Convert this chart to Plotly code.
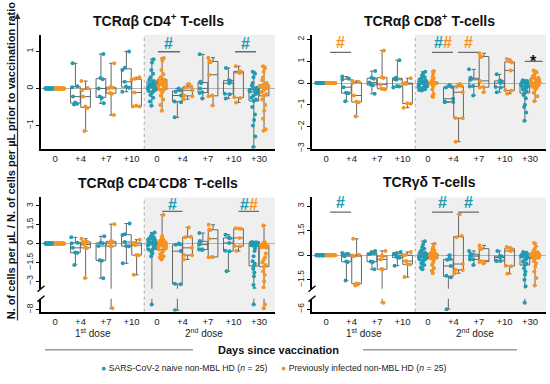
import numpy as np
import plotly.graph_objects as go

W, H = 550, 384
BLUE = '#1f9bb3'
ORANGE = '#f7931e'
FONT = 'Arial, "Liberation Sans", sans-serif'

day_labels = ['0', '+4', '+7', '+10', '0', '+4', '+7', '+10', '+30']
baseline = [0.0] * 25

# ---------------- TCRab CD4+ ----------------
cd4_naive = [
    baseline,
    [-0.43, -0.41, -0.38, -0.22, 0.03, 0.06, 0.68],
    [-0.40, -0.26, -0.22, 0.00, 0.25, 0.28, 0.93],
    [-0.09, 0.02, 0.05, 0.18, 0.50, 0.56, 1.00],
    [-0.47, -0.35, -0.25, -0.18, -0.12, -0.08, -0.07, -0.03, -0.01, 0.00, 0.02, 0.04, 0.05,
     0.07, 0.09, 0.11, 0.13, 0.16, 0.20, 0.24, 0.30, 0.40, 0.50, 0.70, 0.79],
    [-0.78, -0.37, -0.35, -0.19, -0.09, -0.05, 0.00],
    [-0.27, -0.12, -0.10, 0.00, 0.14, 0.18, 0.92],
    [-0.27, -0.16, -0.14, 0.14, 0.20, 0.22, 0.55],
    [-1.58, -1.30, -1.00, -0.85, -0.70, -0.50, -0.34, -0.30, -0.25, -0.20, -0.16, -0.12, -0.10,
     -0.08, -0.06, -0.04, -0.02, -0.01, 0.00, 0.02, 0.08, 0.15, 0.30, 0.40, 0.45],
]
cd4_prev = [
    baseline,
    [-1.15, -0.53, -0.49, -0.22, -0.05, 0.01, 0.20],
    [-0.72, -0.14, -0.12, 0.00, 0.02, 0.04, 0.68],
    [-0.49, -0.49, -0.47, -0.11, 0.24, 0.26, 0.30],
    [-0.60, -0.45, -0.30, -0.20, -0.10, -0.05, -0.03, 0.02, 0.04, 0.06, 0.08, 0.10, 0.12,
     0.13, 0.15, 0.17, 0.19, 0.21, 0.24, 0.26, 0.30, 0.38, 0.50, 0.75, 0.82],
    [-0.29, -0.21, -0.19, -0.05, 0.03, 0.05, 0.12],
    [-0.46, -0.21, -0.19, 0.37, 0.71, 0.75, 0.83],
    [-0.38, -0.26, -0.24, 0.42, 0.45, 0.47, 0.60],
    [-1.14, -1.10, -0.82, -0.60, -0.45, -0.30, -0.20, -0.15, -0.10, -0.05, 0.00, 0.02, 0.04,
     0.05, 0.06, 0.06, 0.07, 0.08, 0.10, 0.15, 0.22, 0.30, 0.45, 0.55, 0.60],
]

# ---------------- TCRab CD8+ ----------------
cd8_naive = [
    baseline,
    [-0.84, -0.47, -0.45, -0.19, 0.16, 0.20, 0.30],
    [-0.49, -0.10, -0.08, 0.03, 0.20, 0.24, 0.55],
    [-0.20, -0.16, -0.14, 0.15, 0.20, 0.24, 1.05],
    [-0.34, -0.32, -0.28, -0.25, -0.22, -0.20, -0.19, -0.15, -0.12, -0.10, -0.06, -0.03, 0.00,
     0.02, 0.04, 0.06, 0.08, 0.10, 0.13, 0.16, 0.20, 0.28, 0.35, 0.45, 0.52],
    [-0.88, -0.87, -0.85, -0.72, -0.20, -0.18, -0.09],
    [-0.57, -0.16, -0.14, 0.15, 0.20, 0.24, 0.63],
    [-0.42, -0.20, -0.18, 0.00, 0.08, 0.12, 0.40],
    [-1.73, -1.35, -1.10, -1.00, -0.70, -0.55, -0.46, -0.38, -0.30, -0.25, -0.20, -0.18, -0.15,
     -0.13, -0.10, -0.08, -0.05, -0.02, 0.03, 0.04, 0.05, 0.07, 0.09, 0.10, 0.13],
]
cd8_prev = [
    baseline,
    [-1.54, -0.88, -0.86, -0.57, 0.00, 0.05, 0.10],
    [-0.28, -0.27, -0.25, -0.06, 0.23, 0.27, 1.50],
    [-1.13, -0.95, -0.93, -0.04, -0.02, 0.02, 0.22],
    [-0.64, -0.60, -0.50, -0.30, -0.15, -0.08, -0.04, -0.02, -0.01, 0.00, 0.00, 0.00, 0.00,
     0.00, 0.00, 0.00, 0.01, 0.02, 0.04, 0.08, 0.15, 0.22, 0.30, 0.45, 0.55],
    [-2.69, -1.62, -1.60, -0.42, -0.17, -0.13, -0.04],
    [-0.42, -0.20, -0.18, 0.10, 1.20, 1.24, 1.37],
    [-0.49, -0.35, -0.33, 0.58, 0.95, 0.99, 1.10],
    [-0.84, -0.60, -0.45, -0.30, -0.22, -0.18, -0.15, -0.10, -0.07, -0.04, -0.02, 0.01, 0.03,
     0.05, 0.08, 0.10, 0.14, 0.18, 0.22, 0.25, 0.30, 0.35, 0.42, 0.50, 0.58],
]

# ---------------- TCRab CD4-CD8- ----------------
dn_naive = [
    baseline,
    [-1.70, -0.74, -0.72, -0.34, 0.03, 0.07, 0.50],
    [-2.76, -1.36, -1.32, -0.20, 0.03, 0.07, 0.58],
    [-1.57, -0.22, -0.20, 0.13, 0.68, 0.74, 1.60],
    [-7.60, -1.00, -0.80, -0.65, -0.55, -0.50, -0.47, -0.35, -0.25, -0.15, -0.10, -0.05, 0.00,
     0.03, 0.08, 0.12, 0.18, 0.25, 0.31, 0.35, 0.42, 0.50, 0.60, 0.75, 0.89],
    [-8.05, -3.25, -3.20, -0.60, -0.10, -0.06, 0.00],
    [-0.52, -0.48, -0.46, -0.08, 0.16, 0.20, 0.84],
    [-2.20, -0.62, -0.58, 0.05, 0.43, 0.47, 0.71],
    [-7.60, -3.60, -3.30, -2.60, -2.30, -2.00, -1.78, -1.60, -1.40, -1.00, -0.60, -0.40, -0.21,
     -0.15, -0.10, -0.07, -0.04, -0.02, 0.05, 0.06, 0.07, 0.08, 0.09, 0.10, 0.10],
]
dn_prev = [
    baseline,
    [-2.75, -0.35, -0.33, -0.08, 0.12, 0.15, 0.39],
    [-7.90, -0.21, -0.19, 0.05, 0.16, 0.20, 1.55],
    [-2.49, -0.93, -0.91, -0.13, 0.03, 0.07, 0.31],
    [-1.26, -1.10, -1.00, -0.85, -0.70, -0.55, -0.47, -0.40, -0.35, -0.30, -0.25, -0.20, -0.13,
     -0.10, -0.05, 0.00, 0.05, 0.10, 0.13, 0.20, 0.25, 0.35, 0.45, 0.60, 2.30],
    [-1.26, -0.93, -0.91, -0.34, 0.50, 0.54, 1.29],
    [-1.08, -1.08, -1.06, 0.39, 1.08, 1.12, 1.50],
    [-0.60, -0.22, -0.20, 0.45, 1.18, 1.20, 1.22],
    [-7.90, -7.60, -3.50, -3.00, -2.50, -2.20, -1.84, -1.70, -1.50, -1.30, -1.10, -0.80, -0.34,
     -0.30, -0.25, -0.20, -0.17, -0.15, -0.13, -0.10, -0.05, 0.00, 0.05, 0.10, 1.45],
]

# ---------------- TCRgd ----------------
gd_naive = [
    baseline,
    [-1.54, -0.41, -0.39, -0.06, 0.05, 0.07, 0.14],
    [-0.86, -0.41, -0.39, 0.06, 0.13, 0.15, 0.26],
    [-0.64, -0.15, -0.13, 0.00, 0.09, 0.11, 0.20],
    [-0.86, -0.75, -0.60, -0.50, -0.40, -0.30, -0.26, -0.20, -0.15, -0.12, -0.10, -0.08, -0.06,
     -0.03, 0.00, 0.02, 0.05, 0.10, 0.14, 0.20, 0.30, 0.40, 0.50, 0.65, 0.86],
    [-6.00, -1.35, -1.25, -0.66, -0.28, -0.24, 0.00],
    [-0.60, -0.27, -0.25, -0.06, 0.05, 0.07, 0.26],
    [-0.36, -0.36, -0.34, -0.14, -0.07, -0.05, 0.26],
    [-5.60, -1.90, -1.50, -1.20, -1.00, -0.80, -0.60, -0.50, -0.40, -0.30, -0.25, -0.15, -0.10,
     -0.08, -0.06, -0.04, -0.02, -0.01, 0.00, 0.02, 0.05, 0.08, 0.10, 0.15, 0.20],
]
gd_prev = [
    baseline,
    [-1.86, -1.75, -1.73, -0.06, -0.02, 0.02, 1.00],
    [-5.60, -0.88, -0.84, -0.26, -0.08, -0.04, 0.26],
    [-1.34, -0.57, -0.55, -0.36, -0.02, 0.02, 0.20],
    [-1.10, -0.95, -0.80, -0.60, -0.45, -0.30, -0.20, -0.15, -0.10, -0.06, -0.04, -0.02, 0.00,
     0.00, 0.00, 0.02, 0.03, 0.05, 0.10, 0.12, 0.20, 0.30, 0.40, 0.50, 0.70],
    [-1.10, -0.91, -0.89, -0.54, 1.10, 1.18, 2.50],
    [-0.50, -0.41, -0.39, -0.36, 0.38, 0.42, 0.60],
    [-1.14, -0.67, -0.65, 0.26, 0.38, 0.42, 0.50],
    [-1.86, -1.40, -1.00, -0.70, -0.50, -0.35, -0.20, -0.15, -0.10, -0.06, -0.04, -0.02, 0.00,
     0.00, 0.02, 0.03, 0.05, 0.08, 0.14, 0.18, 0.22, 0.30, 0.40, 0.55, 0.74],
]

# significance marks: (from group, to group, line y, label y, [(symbol, colour), ...])
sig_cd4 = [(4.04, 4.9, 0.99, 1.20, [('#', BLUE)]), (7.06, 7.88, 0.99, 1.20, [('#', BLUE)])]
sig_cd8 = [(0.16, 0.98, 1.41, 1.86, [('#', ORANGE)]),
           (4.16, 4.98, 1.41, 1.86, [('#', BLUE), ('#', ORANGE)]),
           (5.18, 5.96, 1.41, 1.86, [('#', ORANGE)]),
           (7.80, 8.50, 1.00, 0.97, [('*', '#111111')])]
sig_dn = [(4.2, 5.0, 2.57, 3.10, [('#', BLUE)]), (7.2, 8.0, 2.57, 3.10, [('#', BLUE), ('#', ORANGE)])]
sig_gd = [(0.16, 0.98, 2.63, 3.20, [('#', BLUE)]), (4.16, 4.98, 2.63, 3.20, [('#', BLUE)]),
          (5.18, 6.0, 2.63, 3.20, [('#', BLUE)])]

# ---------------- geometry helpers ----------------
def px(x):
    return x / W

def py(y):
    return 1 - y / H

XL = [px(41), px(275)]
XR = [px(312), px(546)]
TOP = [py(150), py(35)]
BMAIN = [py(291), py(199)]
BLOW = [py(314), py(301)]
XRANGE = [-0.55, 8.63]
POS = list(range(9))
OFF = 0.2
BW = 0.38

panels = [
    dict(title='TCRαβ CD4<sup>+</sup> T-cells', xd=XL, naive=cd4_naive, prev=cd4_prev, sig=sig_cd4,
         segs=[dict(yd=TOP, rng=[-1.63, 1.45], tv=[-1, 0, 1], tt=['−1', '0', '1'], zero=True, xlabels=True)],
         title_y=20),
    dict(title='TCRαβ CD8<sup>+</sup> T-cells', xd=XR, naive=cd8_naive, prev=cd8_prev, sig=sig_cd8,
         segs=[dict(yd=TOP, rng=[-3.02, 2.22], tv=[-3, -2, -1, 0, 1, 2], tt=['−3', '−2', '−1', '0', '1', '2'],
                    zero=True, xlabels=True)],
         title_y=20),
    dict(title='TCRαβ CD4<sup>-</sup>CD8<sup>-</sup> T-cells', xd=XL, naive=dn_naive, prev=dn_prev, sig=sig_dn,
         segs=[dict(yd=BMAIN, rng=[-3.6, 3.68], tv=[-3, -1.5, 0, 1.5, 3], tt=['−3', '−1.5', '0', '1.5', '3'],
                    zero=True, xlabels=False),
               dict(yd=BLOW, rng=[-8.16, -7.12], tv=[-8], tt=['−8'], zero=False, xlabels=True)],
         title_y=183),
    dict(title='TCRγδ T-cells', xd=XR, naive=gd_naive, prev=gd_prev, sig=sig_gd,
         segs=[dict(yd=BMAIN, rng=[-2.05, 3.53], tv=[-1.5, 0, 1.5, 3], tt=['−1.5', '0', '1.5', '3'],
                    zero=True, xlabels=False),
               dict(yd=BLOW, rng=[-6.15, -5.35], tv=[-6], tt=['−6'], zero=False, xlabels=True)],
         title_y=183),
]

fig = go.Figure()
layout = dict(width=W, height=H, margin=dict(l=0, r=0, t=0, b=0), paper_bgcolor='white',
              plot_bgcolor='rgba(0,0,0,0)', showlegend=False,
              font=dict(family=FONT, size=10, color='#222222'))
shapes = []
annotations = []

ax_i = 0
for p in panels:
    seg_axes = []
    for s in p['segs']:
        ax_i += 1
        xn = 'x' if ax_i == 1 else f'x{ax_i}'
        yn = 'y' if ax_i == 1 else f'y{ax_i}'
        xk = 'xaxis' if ax_i == 1 else f'xaxis{ax_i}'
        yk = 'yaxis' if ax_i == 1 else f'yaxis{ax_i}'
        layout[xk] = dict(domain=p['xd'], range=XRANGE, anchor=yn, tickvals=POS, ticktext=day_labels,
                          showticklabels=s['xlabels'], showline=s['xlabels'], linecolor='black',
                          linewidth=1.6, ticks='', showgrid=False, zeroline=False,
                          tickfont=dict(size=9.5, color='#222222'), fixedrange=True)
        layout[yk] = dict(domain=s['yd'], range=s['rng'], anchor=xn, tickvals=s['tv'], ticktext=s['tt'],
                          tickangle=-90, ticks='outside', ticklen=3, tickcolor='black', showline=True,
                          linecolor='black', linewidth=1.6, showgrid=False, zeroline=s['zero'],
                          zerolinecolor='#b3b3b3', zerolinewidth=1,
                          tickfont=dict(size=8.5, color='#222222'), fixedrange=True)
        seg_axes.append((xn, yn))

        for data, col, off in ((p['naive'], BLUE, -OFF), (p['prev'], ORANGE, OFF)):
            xpos = [g + off for g in POS]
            fig.add_trace(go.Box(
                x=xpos,
                q1=[float(np.percentile(v, 25)) for v in data],
                median=[float(np.percentile(v, 50)) for v in data],
                q3=[float(np.percentile(v, 75)) for v in data],
                lowerfence=[float(np.min(v)) for v in data],
                upperfence=[float(np.max(v)) for v in data],
                boxpoints=False, width=BW, whiskerwidth=0.4,
                line=dict(color='#666666', width=1), fillcolor='rgba(0,0,0,0)',
                xaxis=xn, yaxis=yn, hoverinfo='skip'))
            xs = [xp for xp, v in zip(xpos, data) for _ in v]
            ys = [val for v in data for val in v]
            fig.add_trace(go.Box(
                x=xs, y=ys, boxpoints='all', jitter=1, pointpos=0, width=BW,
                line=dict(color=col, width=0), fillcolor='rgba(0,0,0,0)',
                marker=dict(color=col, size=4, opacity=1),
                xaxis=xn, yaxis=yn, hoverinfo='skip'))

    # shading / separator spanning all segments of the panel
    xn_last = seg_axes[-1][0]
    ytop = p['segs'][0]['yd'][1]
    ybot = p['segs'][-1]['yd'][0]
    shapes.append(dict(type='rect', xref=xn_last, yref='paper', x0=3.5, x1=XRANGE[1], y0=ybot, y1=ytop,
                       fillcolor='#efefef', line=dict(width=0), layer='below'))
    shapes.append(dict(type='line', xref=xn_last, yref='paper', x0=3.5, x1=3.5, y0=ybot, y1=ytop,
                       line=dict(color='#a8a8a8', width=1, dash='dot'), layer='below'))

    # significance bars
    xm, ym = seg_axes[0]
    for x0, x1, yl, yt, syms in p['sig']:
        shapes.append(dict(type='line', xref=xm, yref=ym, x0=x0, x1=x1, y0=yl, y1=yl,
                           line=dict(color='#6b6b6b', width=1.3)))
        txt = ''.join(f'<span style="color:{c}">{s}</span>' for s, c in syms)
        annotations.append(dict(x=(x0 + x1) / 2, y=yt, xref=xm, yref=ym, text=f'<b>{txt}</b>',
                                showarrow=False, font=dict(size=16, family=FONT),
                                xanchor='center', yanchor='middle'))

    # panel title
    annotations.append(dict(x=(p['xd'][0] + p['xd'][1]) / 2, y=py(p['title_y']), xref='paper', yref='paper',
                            text=f"<b>{p['title']}</b>", showarrow=False,
                            font=dict(size=14, color='#111111', family=FONT),
                            xanchor='center', yanchor='middle'))

    # dose labels + axis breaks for the bottom panels
    if len(p['segs']) > 1:
        xl = seg_axes[-1][0]
        for xv, t in ((1.5, '1<sup>st</sup> dose'), (5.85, '2<sup>nd</sup> dose')):
            annotations.append(dict(x=xv, y=py(336), xref=xl, yref='paper', text=t, showarrow=False,
                                    font=dict(size=10, color='#222222'), xanchor='center', yanchor='middle'))
        ax_px = p['xd'][0] * W
        for yc in (291, 301):
            shapes.append(dict(type='line', xref='paper', yref='paper',
                               x0=px(ax_px - 3.5), x1=px(ax_px + 3.5), y0=py(yc + 3), y1=py(yc - 3),
                               line=dict(color='black', width=1.4)))

# y-axis title with arrow
annotations.append(dict(x=px(10.5), y=py(162), xref='paper', yref='paper',
                        text='<b>N. of cells per µL / N. of cells per µL prior to vaccination ratio</b>',
                        textangle=-90, showarrow=False, font=dict(size=11, color='#111111'),
                        xanchor='center', yanchor='middle'))
annotations.append(dict(x=px(17.5), y=py(13), xref='paper', yref='paper', text='', showarrow=True,
                        ax=0, ay=309, axref='pixel', ayref='pixel', arrowhead=2, arrowsize=1,
                        arrowwidth=1.2, arrowcolor='#333333'))

# x title with side rules
annotations.append(dict(x=px(278), y=py(352.5), xref='paper', yref='paper', text='<b>Days since vaccination</b>',
                        showarrow=False, font=dict(size=11, color='#111111'), xanchor='center', yanchor='middle'))
for a, b in ((45, 193), (363, 517)):
    shapes.append(dict(type='line', xref='paper', yref='paper', x0=px(a), x1=px(b), y0=py(352.5), y1=py(352.5),
                       line=dict(color='#9a9a9a', width=1.5)))

# legend
legend_items = [(BLUE, 'SARS-CoV-2 naive non-MBL HD (<i>n</i> = 25)', 99),
                (ORANGE, 'Previously infected non-MBL HD (<i>n</i> = 25)', 279)]
for col, label, xleft in legend_items:
    annotations.append(dict(x=px(xleft), y=py(371), xref='paper', yref='paper',
                            text=f'<span style="color:{col}">●</span> {label}', showarrow=False,
                            font=dict(size=8.7, color='#222222'), xanchor='left', yanchor='middle'))

layout['shapes'] = shapes
layout['annotations'] = annotations
fig.update_layout(**layout)
fig.write_html('out.html', config={'displayModeBar': False},
               post_script="document.body.style.margin='0';document.body.style.overflow='hidden';")
